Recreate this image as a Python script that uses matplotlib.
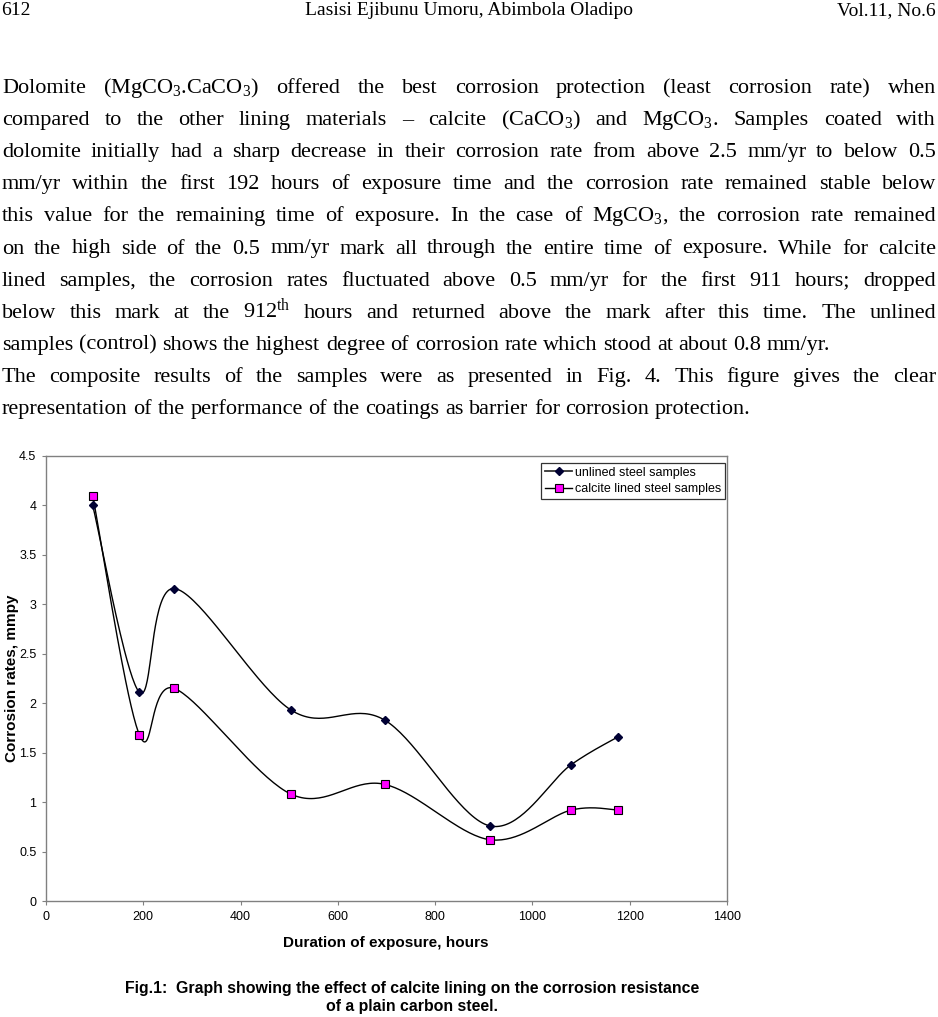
import matplotlib
matplotlib.use('Agg')

import numpy as np
import matplotlib.pyplot as plt

plt.rcParams['mathtext.fontset'] = 'custom'
plt.rcParams['mathtext.rm'] = 'Liberation Serif'
plt.rcParams['mathtext.it'] = 'Liberation Serif:italic'
plt.rcParams['mathtext.bf'] = 'Liberation Serif:bold'
plt.rcParams['mathtext.default'] = 'rm'

# chart data
hours = [96, 192, 264, 504, 696, 912, 1080, 1176]
unlined = [4.00, 2.11, 3.16, 1.93, 1.83, 0.76, 1.38, 1.66]
calcite = [4.10, 1.68, 2.15, 1.08, 1.18, 0.62, 0.92, 0.92]
series_names = ['unlined steel samples', 'calcite lined steel samples']
x_ticks = [0, 200, 400, 600, 800, 1000, 1200, 1400]
y_ticks = [0, 0.5, 1, 1.5, 2, 2.5, 3, 3.5, 4, 4.5]
y_tick_labels = ['0', '0.5', '1', '1.5', '2', '2.5', '3', '3.5', '4', '4.5']

header = ['612', 'Lasisi Ejibunu Umoru, Abimbola Oladipo', 'Vol.11, No.6']

# (line, justified?)
body_lines = [
    ("Dolomite (MgCO$_3$.CaCO$_3$) offered the best corrosion protection (least corrosion rate) when", True),
    ("compared to the other lining materials \u2013 calcite (CaCO$_3$) and MgCO$_3$. Samples coated with", True),
    ("dolomite initially had a sharp decrease in their corrosion rate from above 2.5 mm/yr to below 0.5", True),
    ("mm/yr within the first 192 hours of exposure time and the corrosion rate remained stable below", True),
    ("this value for the remaining time of exposure.  In the case of MgCO$_3$, the corrosion rate remained", True),
    ("on the high side of the 0.5 mm/yr mark all through the entire time of exposure. While for calcite", True),
    ("lined samples, the corrosion rates fluctuated above 0.5 mm/yr for the first 911 hours; dropped", True),
    ("below this mark at the 912$^{th}$ hours and returned above the mark after this time. The unlined", True),
    ("samples (control) shows the highest degree of corrosion rate which stood at about 0.8 mm/yr.", False),
    ("The composite results of the samples were as presented in Fig. 4. This figure gives the clear", True),
    ("representation of the performance of the coatings as barrier for corrosion protection.", False),
]

caption = ['Fig.1:  Graph showing the effect of calcite lining on the corrosion resistance',
           'of a plain carbon steel.']

W, H = 938, 1017


def fy(y):
    # pixel row from the top -> figure fraction
    return 1 - y / H


def smooth(xs, ys, n=40):
    # catmull-rom style bezier, like the spreadsheet "smoothed line"
    p = np.column_stack([xs, ys]).astype(float)
    p = np.vstack([p[0], p, p[-1]])
    t = np.linspace(0, 1, n)[:, None]
    out = []
    for i in range(1, len(p) - 2):
        p0, p1, p2, p3 = p[i - 1], p[i], p[i + 1], p[i + 2]
        c1 = p1 + (p2 - p0) / 6
        c2 = p2 - (p3 - p1) / 6
        seg = ((1 - t) ** 3) * p1 + 3 * ((1 - t) ** 2) * t * c1 + 3 * (1 - t) * t ** 2 * c2 + t ** 3 * p2
        out.append(seg)
    out = np.vstack(out)
    return out[:, 0], out[:, 1]


fig = plt.figure(figsize=(W / 100, H / 100), dpi=100)
renderer = fig.canvas.get_renderer()

serif = 'Liberation Serif'
sans = 'Liberation Sans'

# header
fig.text(1 / W, fy(15), header[0], fontsize=14, family=serif, va='baseline', ha='left')
fig.text(469 / W, fy(15), header[1], fontsize=14, family=serif, va='baseline', ha='center')
fig.text(936 / W, fy(15), header[2], fontsize=14, family=serif, va='baseline', ha='right')

# body text, justified word by word
left, right = 2, 936
base_fs = 16
words_per_line = [ln.split() for ln, _ in body_lines]


def word_width(w, fs):
    t = fig.text(0, 0, w, fontsize=fs, family=serif)
    bb = t.get_window_extent(renderer)
    t.remove()
    return bb.width


space_base = word_width('a a', base_fs) - 2 * word_width('a', base_fs)
scale = 1.0
for words, (ln, just) in zip(words_per_line, body_lines):
    natural = sum(word_width(w, base_fs) for w in words) + space_base * 0.8 * (len(words) - 1)
    scale = min(scale, (right - left) / natural)
body_fs = base_fs * scale
space = space_base * scale

for i, (words, (ln, just)) in enumerate(zip(words_per_line, body_lines)):
    yb = 93 + 32.1 * i
    widths = [word_width(w, body_fs) for w in words]
    if just:
        gap = (right - left - sum(widths)) / (len(words) - 1)
    else:
        gap = space
    x = left
    for w, wd in zip(words, widths):
        fig.text(x / W, fy(yb), w, fontsize=body_fs, family=serif, va='baseline', ha='left')
        x += wd + gap

# chart
ax = fig.add_axes([46 / W, fy(901), (727 - 46) / W, (901 - 456) / H])
xs, ys = smooth(hours, unlined)
ax.plot(xs, ys, color='black', lw=1.0)
xs, ys = smooth(hours, calcite)
ax.plot(xs, ys, color='black', lw=1.0)
ax.plot(hours, unlined, ls='none', marker='D', ms=4.5, color='#000033')
ax.plot(hours, calcite, ls='none', marker='s', ms=6, mfc='#ff00ff', mec='black', mew=0.8)

h1, = ax.plot([], [], color='#333333', lw=1.3, marker='D', ms=4.5, mfc='#000033', mec='#000033')
h2, = ax.plot([], [], color='black', lw=1.0, marker='s', ms=6, mfc='#ff00ff', mec='black', mew=0.8)
leg = ax.legend([h1, h2], series_names, loc='upper right', bbox_to_anchor=(0.997, 0.984),
                prop={'family': sans, 'size': 9}, fancybox=False, frameon=True,
                edgecolor='black', borderpad=0.3, handlelength=2.2, handletextpad=0.2,
                labelspacing=0.35, borderaxespad=0.0)
leg.get_frame().set_linewidth(0.9)

ax.set_xlim(0, 1400)
ax.set_ylim(0, 4.5)
ax.set_xticks(x_ticks)
ax.set_xticklabels([str(v) for v in x_ticks])
ax.set_yticks(y_ticks)
ax.set_yticklabels(y_tick_labels)
for lab in ax.get_xticklabels() + ax.get_yticklabels():
    lab.set_family(sans)
    lab.set_fontsize(9)
ax.tick_params(axis='both', length=3, width=0.8, color='#808080', pad=4)
for s in ax.spines.values():
    s.set_color('#808080')
    s.set_linewidth(1.0)

fig.text(386 / W, fy(943), 'Duration of exposure, hours', family=sans, fontsize=11,
         fontweight='bold', ha='center', va='center')
fig.text(12 / W, fy(678), 'Corrosion rates, mmpy', family=sans, fontsize=11,
         fontweight='bold', ha='center', va='center', rotation=90)

fig.text(412 / W, fy(989), caption[0], family=sans, fontsize=11.4, fontweight='bold',
         ha='center', va='center')
fig.text(412 / W, fy(1006), caption[1], family=sans, fontsize=11.4, fontweight='bold',
         ha='center', va='center')

fig.savefig('out.png', dpi=100)
